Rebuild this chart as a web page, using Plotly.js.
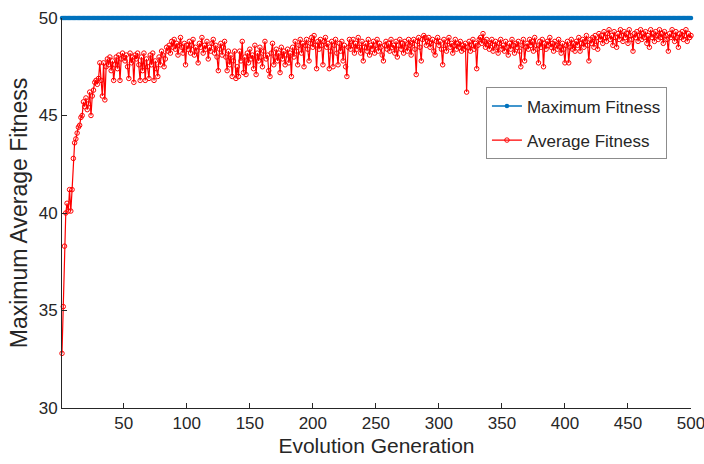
<!DOCTYPE html>
<html>
<head>
<meta charset="utf-8">
<script src="https://cdn.plot.ly/plotly-3.0.1.min.js"></script>
<style>
  html, body { margin: 0; padding: 0; background: #ffffff; }
  #chart { width: 704px; height: 464px; }
</style>
</head>
<body>
<div id="chart"></div>
<script>
// Average fitness per generation (generations 1..500)
const averageFitness = [
  32.8, 35.2, 38.3, 40.0, 40.5, 40.1, 41.2, 40.1, 41.2, 42.8,
  43.6, 43.8, 44.1, 44.4, 44.5, 44.9, 45.0, 45.7, 45.45, 45.9,
  45.3, 45.6, 46.2, 45.0, 46.0, 46.3, 46.7, 46.8, 46.6, 46.9,
  47.7, 46.8, 46.0, 47.7, 45.8, 47.5, 47.9, 47.6, 48.0, 47.3,
  47.8, 46.8, 47.6, 48.0, 47.4, 48.1, 46.8, 47.9, 48.2, 48.0,
  47.8, 48.1, 47.5, 46.9, 48.2, 47.7, 48.0, 46.7, 48.1, 47.9,
  48.2, 47.6, 46.8, 48.0, 47.3, 48.2, 46.8, 47.9, 47.5, 46.9,
  48.1, 47.6, 48.2, 46.8, 47.8, 47.4, 47.0, 48.0, 47.6, 48.3,
  48.1, 47.5, 47.9, 48.5, 48.3, 48.6, 48.2, 48.8, 48.5, 48.9,
  48.4, 48.7, 48.1, 48.6, 49.0, 48.5, 48.2, 48.7, 47.6, 48.6,
  48.4, 48.8, 48.2, 48.6, 48.9, 48.1, 48.5, 48.3, 47.7, 48.7,
  48.5, 49.0, 48.2, 48.6, 48.4, 48.8, 47.9, 48.5, 48.3, 48.7,
  48.9, 48.2, 48.6, 48.0, 47.3, 48.4, 48.7, 48.1, 48.5, 48.8,
  48.0, 47.3, 48.3, 47.6, 48.1, 47.0, 47.8, 48.3, 46.9, 47.5,
  47.0, 48.3, 47.8, 48.8, 47.2, 48.0, 47.1, 48.2, 47.7, 48.4,
  47.9, 48.1, 47.4, 48.6, 47.1, 48.2, 47.8, 48.5, 48.0, 47.5,
  48.3, 48.8, 47.9, 48.1, 47.3, 47.0, 48.2, 48.7, 47.6, 48.0,
  48.4, 47.8, 48.2, 47.2, 48.5, 47.9, 48.3, 47.6, 48.1, 48.4,
  47.7, 48.2, 47.0, 48.5, 48.0, 48.8, 48.3, 47.6, 48.6, 48.9,
  48.2, 48.7, 47.5, 48.6, 48.9, 48.4, 47.8, 48.7, 49.0, 48.5,
  49.1, 48.6, 47.4, 48.8, 48.4, 48.9, 48.6, 47.6, 48.8, 49.0,
  48.5, 48.7, 47.4, 48.3, 48.8, 47.5, 48.6, 48.9, 48.2, 47.6,
  48.7, 48.3, 48.8, 47.8, 48.6, 47.5, 47.0, 48.5, 48.9, 48.4,
  48.6, 48.9, 48.2, 48.7, 48.4, 49.0, 48.5, 48.2, 48.8, 47.8,
  48.5, 48.7, 48.3, 48.9, 48.1, 48.6, 48.4, 48.8, 48.2, 48.6,
  48.9, 48.3, 48.7, 48.5, 48.1, 47.8, 48.6, 48.8, 48.4, 48.7,
  48.3, 48.9, 48.5, 48.6, 48.2, 48.8, 48.0, 48.6, 48.9, 48.4,
  48.7, 48.2, 48.8, 48.5, 48.3, 48.9, 48.6, 48.1, 48.7, 48.9,
  48.4, 47.1, 48.8, 49.0, 48.5, 47.8, 48.9, 49.1, 49.0, 48.6,
  48.8, 49.0, 48.5, 48.7, 48.9, 48.3, 48.1, 48.8, 49.0, 48.6,
  48.8, 48.4, 47.6, 48.9, 48.6, 48.3, 48.8, 49.0, 48.5, 48.7,
  48.2, 48.6, 48.9, 48.4, 48.7, 48.5, 48.8, 48.3, 48.6, 48.4,
  48.7, 46.2, 48.5, 48.8, 48.3, 48.6, 48.9, 48.4, 48.7, 47.4,
  48.6, 48.9, 49.0, 48.7, 49.2, 48.8, 48.5, 48.9, 48.6, 48.4,
  48.7, 48.9, 48.3, 48.6, 48.8, 48.5, 48.2, 48.7, 48.9, 48.4,
  48.6, 48.3, 48.8, 48.5, 48.1, 48.7, 48.4, 48.9, 48.6, 48.2,
  48.7, 48.5, 48.8, 48.3, 47.5, 48.6, 48.9, 47.8, 48.5, 48.7,
  48.4, 48.9, 48.6, 48.8, 48.3, 49.0, 48.6, 48.4, 47.7, 48.8,
  48.5, 48.9, 47.5, 48.7, 48.4, 48.8, 48.6, 49.0, 48.5, 48.7,
  48.3, 48.8, 48.6, 48.4, 48.9, 48.5, 48.2, 48.7, 48.4, 47.7,
  48.6, 48.8, 47.7, 48.5, 48.9, 48.4, 48.7, 48.3, 48.8, 48.6,
  49.0, 48.3, 48.7, 48.9, 48.5, 48.8, 49.1, 48.6, 47.8, 48.9,
  48.7, 49.0, 48.5, 49.1, 48.8, 48.4, 49.2, 48.9, 49.1, 48.7,
  49.3, 49.0, 48.8, 49.2, 49.4, 48.9, 49.1, 48.6, 49.3, 49.0,
  48.5, 49.2, 48.9, 49.4, 49.1, 48.8, 49.3, 49.0, 49.2, 48.7,
  49.4, 49.1, 48.9, 48.3, 49.2, 49.0, 49.3, 48.8, 49.1, 49.4,
  48.9, 49.2, 49.0, 49.3, 48.7, 49.1, 48.5, 49.4, 49.0, 49.2,
  48.8, 49.3, 49.1, 48.9, 49.4, 49.0, 49.2, 48.7, 49.3, 49.1,
  48.9, 48.3, 49.2, 49.0, 49.4, 49.1, 48.8, 49.3, 49.0, 48.5,
  49.2, 49.0, 49.3, 48.9, 49.1, 49.4, 48.8, 49.2, 49.0, 49.1
];

// Maximum fitness stays at the optimum value 50 in every generation
const maximumFitnessValue = 50;

const seriesNames = ["Maximum Fitness", "Average Fitness"];
const xTickValues = [50, 100, 150, 200, 250, 300, 350, 400, 450, 500];
const yTickValues = [30, 35, 40, 45, 50];

const generations = averageFitness.map((_, i) => i + 1);
const maximumFitness = generations.map(() => maximumFitnessValue);

const fontFamily = "Liberation Sans, Arial, Helvetica, sans-serif";
const textColor = "#262626";

const traces = [
  {
    x: generations, y: maximumFitness, name: seriesNames[0],
    legendgroup: "max",
    type: "scatter", mode: "lines+markers", cliponaxis: false,
    line: { color: "#0072BD", width: 1.5 },
    marker: { color: "#0072BD", size: 4.5, symbol: "circle" }
  },
  {
    x: generations, y: averageFitness, name: seriesNames[1],
    legendgroup: "avg",
    type: "scatter", mode: "lines+markers", cliponaxis: false,
    line: { color: "#FF0000", width: 1.2 },
    marker: { color: "#FF0000", size: 4.5, symbol: "circle-open",
              line: { color: "#FF0000", width: 1 } }
  }
];

const layout = {
  width: 704, height: 464,
  margin: { l: 62, r: 13, t: 18, b: 56 },
  paper_bgcolor: "#ffffff", plot_bgcolor: "#ffffff",
  font: { family: fontFamily, color: textColor, size: 17 },
  showlegend: true,
  legend: {
    x: 0.674, y: 0.822, xanchor: "left", yanchor: "top",
    bgcolor: "#ffffff", bordercolor: "#8c8c8c", borderwidth: 1,
    font: { family: fontFamily, size: 17, color: textColor },
    traceorder: "grouped", tracegroupgap: 9
  },
  xaxis: {
    range: [1, 500.001], tickvals: xTickValues, ticktext: xTickValues.map(String),
    ticklabeloverflow: "allow",
    ticks: "inside", ticklen: 5, tickcolor: "#262626", tickwidth: 1,
    showline: true, linecolor: "#262626", linewidth: 1, mirror: false,
    showgrid: false, zeroline: false,
    tickfont: { family: fontFamily, size: 17, color: textColor },
    title: { text: "Evolution Generation", font: { family: fontFamily, size: 21, color: textColor }, standoff: 5 }
  },
  yaxis: {
    range: [30, 50], tickvals: yTickValues, ticktext: yTickValues.map(String),
    ticks: "inside", ticklen: 5, tickcolor: "#262626", tickwidth: 1,
    showline: true, linecolor: "#262626", linewidth: 1, mirror: false,
    showgrid: false, zeroline: false,
    tickfont: { family: fontFamily, size: 17, color: textColor },
    title: { text: "Maximum Average Fitness", font: { family: fontFamily, size: 23, color: textColor }, standoff: 4 }
  }
};

Plotly.newPlot("chart", traces, layout, { displayModeBar: false, staticPlot: true });
</script>
</body>
</html>
